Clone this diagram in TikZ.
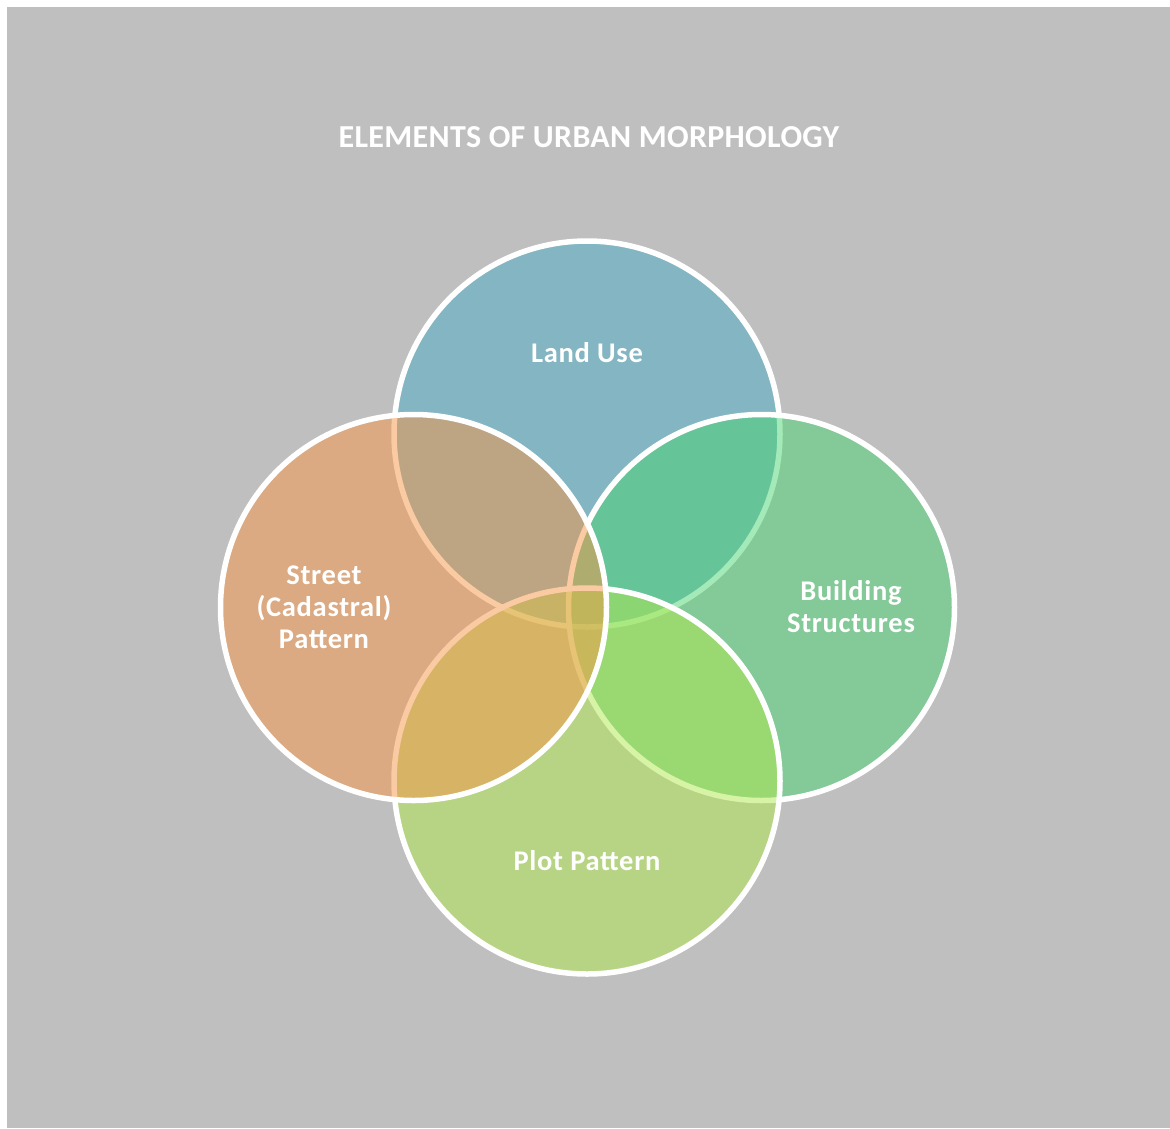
\documentclass[tikz,border=0pt]{standalone}
\usepackage{fontspec}
\setmainfont{Carlito}
\newfontfamily\titlefont[LetterSpace=1]{Carlito}
\newfontfamily\labelfont[LetterSpace=2.5]{Carlito}
\definecolor{bgray}{HTML}{BFBFBF}
\definecolor{landc}{HTML}{4BACC6}
\definecolor{streetc}{HTML}{F79646}
\definecolor{buildc}{HTML}{4AD472}
\definecolor{plotc}{HTML}{B1E94D}
\tikzset{
  venn/.style={line width=5.5pt, draw=white},
  lbl/.style={text=white, font=\labelfont\fontsize{28.5}{32}\selectfont\bfseries, align=center, inner sep=0pt},
  ttl/.style={text=white, font=\titlefont\fontsize{32}{36}\selectfont\bfseries, inner sep=0pt},
}
\begin{document}
\begin{tikzpicture}[x=1pt,y=-1pt]
  % page and backdrop
  \fill[white] (0,0) rectangle (1170,1128);
  \useasboundingbox (0,0) rectangle (1170,1128);
  \fill[bgray] (7,7) rectangle (1170,1128);

  \node[ttl] (title) at (589,137) {ELEMENTS OF URBAN MORPHOLOGY};

  % four half-transparent circles, white rims
  \def\rr{193}
  \fill[landc, fill opacity=0.5] (587,434) circle (\rr);
  \draw[venn] (587,434) circle (\rr);
  \fill[buildc, fill opacity=0.5] (761.5,607.5) circle (\rr);
  \draw[venn] (761.5,607.5) circle (\rr);
  \fill[plotc, fill opacity=0.5] (587,781) circle (\rr);
  \draw[venn] (587,781) circle (\rr);
  \fill[streetc, fill opacity=0.5] (413.5,607.5) circle (\rr);
  \draw[venn] (413.5,607.5) circle (\rr);

  \node[lbl] (land) at (587,353) {Land Use};
  \node[lbl] (street) at (324,607) {Street\\(Cadastral)\\Pattern};
  \node[lbl] (build) at (851,607) {Building\\Structures};
  \node[lbl] (plot) at (587,861) {Plot Pattern};
\end{tikzpicture}
\end{document}
